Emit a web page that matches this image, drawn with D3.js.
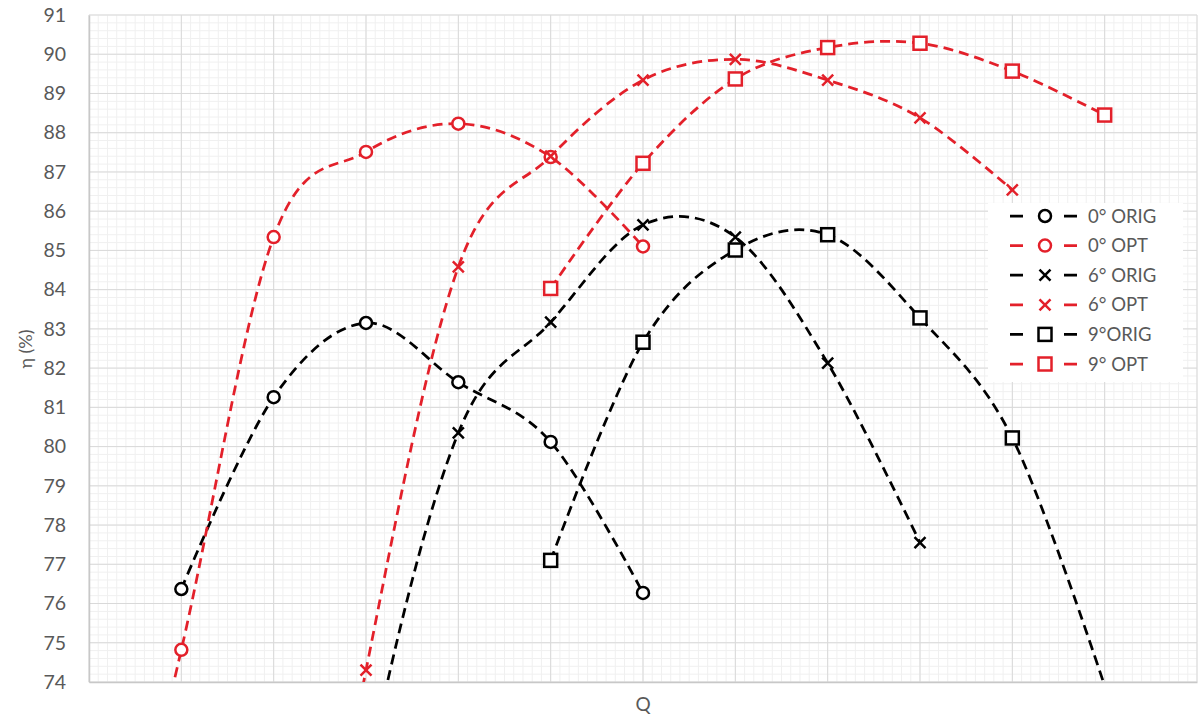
<!DOCTYPE html>
<html>
<head>
<meta charset="utf-8">
<script src="https://cdn.jsdelivr.net/npm/d3@7"></script>
<style>
  html, body { margin: 0; padding: 0; background: #fff; }
  svg { display: block; font-family: Lato, "Open Sans", "Liberation Sans", sans-serif; }
</style>
</head>
<body>
<svg id="chart" width="1202" height="715"></svg>
<script>
// ---- data (index = position on Q axis, null = no point) ----
const qIndex = [0, 1, 2, 3, 4, 5, 6, 7, 8, 9, 10, 11];
const orig0 = [null, 76.37, 81.26, 83.15, 81.64, 80.12, 76.27, null, null, null, null, null];
const opt0  = [65.0, 74.82, 85.34, 87.51, 88.23, 87.38, 85.10, null, null, null, null, null];
const orig6 = [null, null, 58.0, 71.5, 80.35, 83.17, 85.65, 85.34, 82.13, 77.55, null, null];
const opt6  = [null, null, 61.0, 74.30, 84.58, 87.40, 89.34, 89.87, 89.34, 88.38, 86.54, null];
const orig9 = [null, null, null, null, null, 77.10, 82.66, 85.01, 85.40, 83.28, 80.22, 73.9];
const opt9  = [null, null, null, null, null, 84.03, 87.22, 89.37, 90.17, 90.28, 89.57, 88.45];
const seriesNames = ["0° ORIG", "0° OPT", "6° ORIG", "6° OPT", "9°ORIG", "9° OPT"];
const yTicks = [74, 75, 76, 77, 78, 79, 80, 81, 82, 83, 84, 85, 86, 87, 88, 89, 90, 91];

const RED = "#e3202a", BLACK = "#000000";
const series = [
  { name: seriesNames[0], values: orig0, color: BLACK, marker: "circle" },
  { name: seriesNames[1], values: opt0,  color: RED,   marker: "circle" },
  { name: seriesNames[2], values: orig6, color: BLACK, marker: "cross" },
  { name: seriesNames[3], values: opt6,  color: RED,   marker: "cross" },
  { name: seriesNames[4], values: orig9, color: BLACK, marker: "square" },
  { name: seriesNames[5], values: opt9,  color: RED,   marker: "square" }
];

const svg = d3.select("#chart");
const L = 89, R = 1197, T = 15, B = 682;
const x = d3.scaleLinear().domain([0, 12]).range([L, R]);
const y = d3.scaleLinear().domain([74, 91]).range([B, T]);

// minor grid
const g = svg.append("g");
g.selectAll("line.mx").data(d3.range(0, 12.0001, 0.1)).join("line")
  .attr("x1", d => x(d)).attr("x2", d => x(d)).attr("y1", T).attr("y2", B)
  .attr("stroke", "#f0f0f0").attr("stroke-width", 1);
g.selectAll("line.my").data(d3.range(74, 91.0001, 0.2)).join("line")
  .attr("x1", L).attr("x2", R).attr("y1", d => y(d)).attr("y2", d => y(d))
  .attr("stroke", "#f0f0f0").attr("stroke-width", 1);
// major grid
g.selectAll("line.Mx").data(d3.range(0, 13)).join("line")
  .attr("x1", d => x(d)).attr("x2", d => x(d)).attr("y1", T).attr("y2", B)
  .attr("stroke", "#d9d9d9").attr("stroke-width", 1);
g.selectAll("line.My").data(yTicks).join("line")
  .attr("x1", L).attr("x2", R).attr("y1", d => y(d)).attr("y2", d => y(d))
  .attr("stroke", "#d9d9d9").attr("stroke-width", 1);

// axes
const yAxis = d3.axisLeft(y).tickValues(yTicks).tickSize(0).tickPadding(23);
const ya = svg.append("g").attr("transform", `translate(${L},0)`).call(yAxis);
ya.select(".domain").attr("stroke", "#c8c8c8").attr("stroke-width", 1.5);
ya.selectAll("text").attr("fill", "#595959").attr("font-size", 19.5)
  .attr("font-family", "Lato, 'Open Sans', sans-serif");
const xAxis = d3.axisBottom(x).tickValues([]).tickSize(0);
const xa = svg.append("g").attr("transform", `translate(0,${B})`).call(xAxis);
xa.select(".domain").attr("stroke", "#c8c8c8").attr("stroke-width", 1.5);

svg.append("text").attr("x", 643).attr("y", 711).attr("text-anchor", "middle")
  .attr("fill", "#595959").attr("font-size", 19).text("Q");
svg.append("text").attr("transform", "translate(32,349) rotate(-90)")
  .attr("text-anchor", "middle").attr("fill", "#595959").attr("font-size", 18).text("η (%)");

// clip
svg.append("clipPath").attr("id", "plot").append("rect")
  .attr("x", L).attr("y", T).attr("width", R - L).attr("height", B - T);

const line = d3.line()
  .defined(d => d.v !== null)
  .x(d => x(d.i)).y(d => y(d.v))
  .curve(d3.curveCardinal.tension(0));

function drawMarker(sel, type, color) {
  if (type === "circle") {
    sel.append("circle").attr("r", 6).attr("fill", "#fff").attr("stroke", color).attr("stroke-width", 2.5);
  } else if (type === "square") {
    sel.append("rect").attr("x", -6.5).attr("y", -6.5).attr("width", 13).attr("height", 13)
      .attr("fill", "#fff").attr("stroke", color).attr("stroke-width", 2.5);
  } else {
    sel.append("path").attr("d", "M-5.5,-5.5L5.5,5.5M-5.5,5.5L5.5,-5.5")
      .attr("fill", "none").attr("stroke", color).attr("stroke-width", 2.5);
  }
}

const plot = svg.append("g").attr("clip-path", "url(#plot)");
series.forEach(s => {
  const pts = qIndex.map(i => ({ i, v: s.values[i] }));
  plot.append("path").datum(pts).attr("d", line)
    .attr("fill", "none").attr("stroke", s.color).attr("stroke-width", 2.75)
    .attr("stroke-dasharray", "10,6");
});
series.forEach(s => {
  const pts = qIndex.map(i => ({ i, v: s.values[i] })).filter(d => d.v !== null && d.v >= 74);
  pts.forEach(p => {
    const m = plot.append("g").attr("transform", `translate(${x(p.i)},${y(p.v)})`);
    drawMarker(m, s.marker, s.color);
  });
});

// legend
const lg = svg.append("g");
lg.append("rect").attr("x", 988).attr("y", 203).attr("width", 195).attr("height", 179).attr("fill", "#fff");
series.forEach((s, k) => {
  const yy = 216 + k * 29.6;
  const row = lg.append("g").attr("transform", `translate(0,${yy})`);
  row.append("line").attr("x1", 1010).attr("x2", 1078).attr("y1", 0).attr("y2", 0)
    .attr("stroke", s.color).attr("stroke-width", 2.75).attr("stroke-dasharray", "13,41");
  const m = row.append("g").attr("transform", "translate(1045,0)");
  drawMarker(m, s.marker, s.color);
  row.append("text").attr("x", 1088).attr("y", 0).attr("dy", "0.36em")
    .attr("fill", "#595959").attr("font-size", 18.5).text(s.name);
});
</script>
</body>
</html>
